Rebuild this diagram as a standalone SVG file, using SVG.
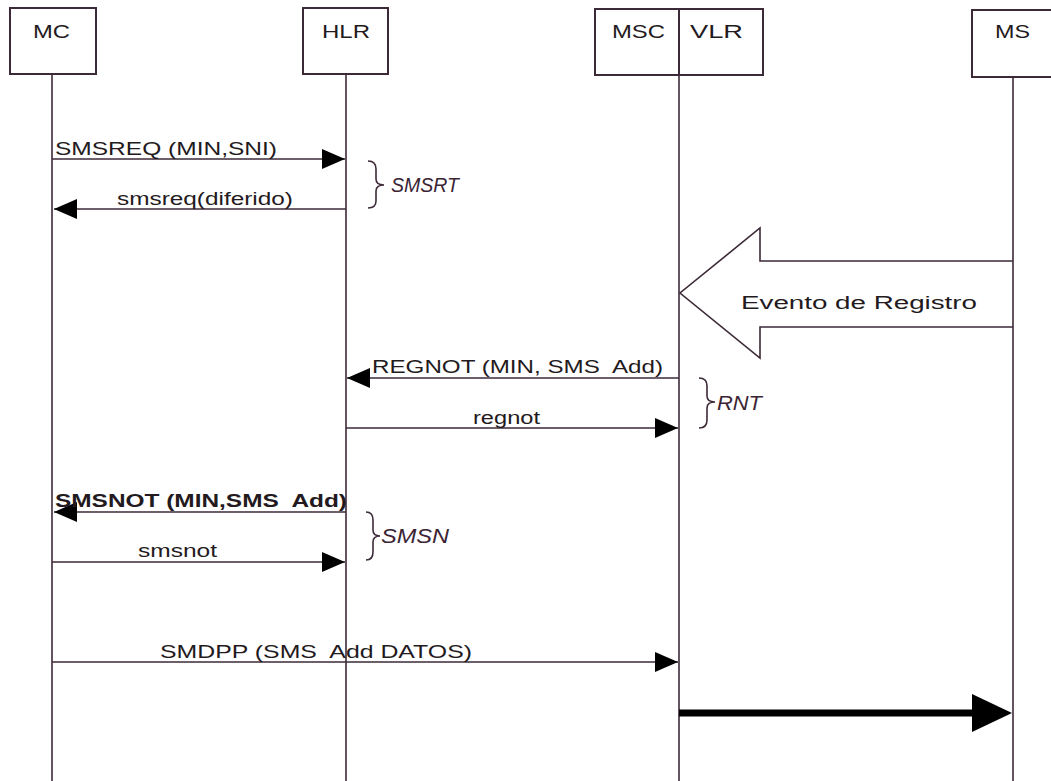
<svg xmlns="http://www.w3.org/2000/svg" width="1051" height="781" viewBox="0 0 1051 781">
<style>
.box{fill:#fff;stroke:#3d2a38;stroke-width:2}
.life{stroke:#3d2a38;stroke-width:1.6;fill:none}
.msg{stroke:#3d2a38;stroke-width:1.6;fill:none}
.lbl{font-family:"Liberation Sans",Arial,sans-serif;font-size:18px;fill:#231a20}
.hdr{font-family:"Liberation Sans",Arial,sans-serif;font-size:18px;fill:#231a20;text-anchor:start}
.it{font-family:"Liberation Sans",Arial,sans-serif;font-size:20px;font-style:italic;fill:#3a2434}
.brace{stroke:#3d2a38;stroke-width:1.6;fill:none}
.head{fill:#000}
</style>
<defs>
<marker id="ah" markerUnits="userSpaceOnUse" markerWidth="24" markerHeight="22" refX="23" refY="11" orient="auto">
<path d="M0,1 L23,11 L0,21 Z" class="head"/>
</marker>
</defs>
<g id="node-MC">
<rect class="box" x="10" y="8" width="86" height="66"/>
<text class="hdr" x="33" y="38" textLength="37" lengthAdjust="spacingAndGlyphs">MC</text>
</g>
<g id="node-HLR">
<rect class="box" x="303" y="8" width="85" height="66"/>
<text class="hdr" x="322" y="38" textLength="48" lengthAdjust="spacingAndGlyphs">HLR</text>
</g>
<g id="node-MSC-VLR">
<rect class="box" x="595" y="9" width="168" height="66"/>
<line class="box" x1="679" y1="9" x2="679" y2="75"/>
<text class="hdr" x="612" y="38" textLength="53" lengthAdjust="spacingAndGlyphs">MSC</text>
<text class="hdr" x="690" y="38" textLength="53" lengthAdjust="spacingAndGlyphs">VLR</text>
</g>
<g id="node-MS">
<rect class="box" x="972" y="10" width="90" height="67"/>
<text class="hdr" x="995" y="38" textLength="35" lengthAdjust="spacingAndGlyphs">MS</text>
</g>
<g id="lifelines">
<line class="life" x1="52" y1="74" x2="52" y2="781"/>
<line class="life" x1="346" y1="74" x2="346" y2="781"/>
<line class="life" x1="679" y1="75" x2="679" y2="781"/>
<line class="life" x1="1013" y1="77" x2="1013" y2="781"/>
</g>
<g id="event">
<polyline class="msg" fill="#fff" points="1013,261 760,261 760,228 680,293 760,358 760,327 1013,327"/>
<text class="lbl" x="741" y="309" font-size="20" textLength="236" lengthAdjust="spacingAndGlyphs">Evento de Registro</text>
</g>
<g id="connectors">
<line class="msg" x1="52" y1="159" x2="345" y2="159" marker-end="url(#ah)"/>
<line class="msg" x1="346" y1="209" x2="54" y2="209" marker-end="url(#ah)"/>
<line class="msg" x1="679" y1="378" x2="347" y2="378" marker-end="url(#ah)"/>
<line class="msg" x1="346" y1="428" x2="678" y2="428" marker-end="url(#ah)"/>
<line class="msg" x1="346" y1="512" x2="54" y2="512" marker-end="url(#ah)"/>
<line class="msg" x1="52" y1="562" x2="345" y2="562" marker-end="url(#ah)"/>
<line class="msg" x1="52" y1="662" x2="678" y2="662" marker-end="url(#ah)"/>
<line x1="679" y1="713" x2="975" y2="713" stroke="#000" stroke-width="7"/>
<path d="M972,694 L1012,713 L972,732 Z" fill="#000"/>
</g>
<g id="labels">
<text class="lbl" x="55" y="155" textLength="222" lengthAdjust="spacingAndGlyphs">SMSREQ (MIN,SNI)</text>
<text class="lbl" x="117" y="205" textLength="176" lengthAdjust="spacingAndGlyphs">smsreq(diferido)</text>
<text class="lbl" x="372" y="373" textLength="291" lengthAdjust="spacingAndGlyphs">REGNOT (MIN, SMS&#160; Add)</text>
<text class="lbl" x="473" y="424" textLength="67" lengthAdjust="spacingAndGlyphs">regnot</text>
<text class="lbl" x="55" y="507" font-weight="bold" textLength="292" lengthAdjust="spacingAndGlyphs">SMSNOT (MIN,SMS&#160; Add)</text>
<text class="lbl" x="138" y="557" textLength="79" lengthAdjust="spacingAndGlyphs">smsnot</text>
<text class="lbl" x="160" y="658" textLength="312" lengthAdjust="spacingAndGlyphs">SMDPP (SMS&#160; Add DATOS)</text>
</g>
<g id="braces">
<path class="brace" d="M368,161 Q376,161 376,169 L376,179 Q376,185 384,185 Q376,185 376,191 L376,201 Q376,208 368,208"/>
<text class="it" x="391" y="192" textLength="68" lengthAdjust="spacingAndGlyphs">SMSRT</text>
<path class="brace" d="M699,378 Q707,378 707,386 L707,396 Q707,402 715,402 Q707,402 707,408 L707,420 Q707,428 699,428"/>
<text class="it" x="717" y="410" textLength="45" lengthAdjust="spacingAndGlyphs">RNT</text>
<path class="brace" d="M366,512 Q373,512 373,520 L373,530 Q373,536 380,536 Q373,536 373,542 L373,552 Q373,560 366,560"/>
<text class="it" x="381" y="543" textLength="68" lengthAdjust="spacingAndGlyphs">SMSN</text>
</g>
</svg>
